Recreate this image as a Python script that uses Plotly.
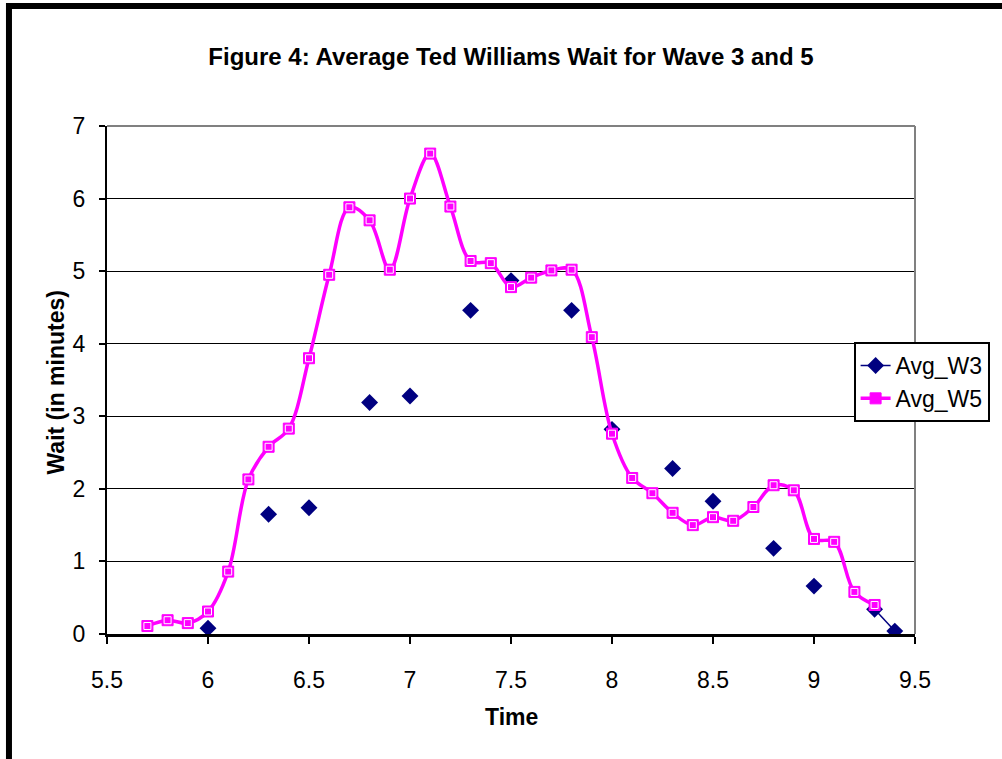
import plotly.graph_objects as go

# ---- data ----
times = [5.7, 5.8, 5.9, 6.0, 6.1, 6.2, 6.3, 6.4, 6.5, 6.6,
         6.7, 6.8, 6.9, 7.0, 7.1, 7.2, 7.3, 7.4, 7.5, 7.6,
         7.7, 7.8, 7.9, 8.0, 8.1, 8.2, 8.3, 8.4, 8.5, 8.6,
         8.7, 8.8, 8.9, 9.0, 9.1, 9.2, 9.3, 9.4]

avg_w3 = [None, None, None, 0.08, None, None, 1.65, None, 1.74, None,
          None, 3.19, None, 3.28, None, None, 4.46, None, 4.87, None,
          None, 4.46, None, 2.82, None, None, 2.28, None, 1.83, None,
          None, 1.18, None, 0.66, None, None, 0.34, 0.04]

avg_w5 = [0.11, 0.19, 0.15, 0.31, 0.86, 2.13, 2.58, 2.83, 3.80, 4.95,
          5.88, 5.70, 5.02, 6.00, 6.62, 5.89, 5.14, 5.11, 4.78, 4.91,
          5.01, 5.02, 4.09, 2.76, 2.15, 1.94, 1.67, 1.50, 1.61, 1.56,
          1.75, 2.05, 1.98, 1.31, 1.27, 0.58, 0.40, None]

x_ticks = [5.5, 6, 6.5, 7, 7.5, 8, 8.5, 9, 9.5]
y_ticks = [0, 1, 2, 3, 4, 5, 6, 7]

title_text = "Figure 4: Average Ted Williams Wait for Wave 3 and 5"
x_title = "Time"
y_title = "Wait (in minutes)"

FONT = "Liberation Sans, Arial, sans-serif"
W, H = 1002, 759
L, R, T, B = 107, 79, 126, 125
PW, PH = W - L - R, H - T - B


def px_x(px):
    return (px - L) / PW


def px_y(py):
    return (H - B - py) / PH


fig = go.Figure()

fig.add_trace(go.Scatter(
    x=times, y=avg_w3, name="Avg_W3", mode="lines+markers",
    connectgaps=False,
    line=dict(color="#000080", width=1.5),
    marker=dict(symbol="diamond", size=13, color="#000080",
                line=dict(width=0)),
))

fig.add_trace(go.Scatter(
    x=times, y=avg_w5, name="Avg_W5", mode="lines+markers",
    line=dict(color="#FF00FF", width=3.5, shape="spline", smoothing=1.0),
    marker=dict(symbol="square", size=11, color="#FF00FF",
                line=dict(color="#FF00FF", width=1)),
))

fig.add_trace(go.Scatter(
    x=times, y=avg_w5, mode="markers", showlegend=False, hoverinfo="skip",
    marker=dict(symbol="square-open", size=7, color="white",
                line=dict(color="white", width=1)),
))

fig.update_layout(
    width=W, height=H,
    margin=dict(l=L, r=R, t=T, b=B, pad=0),
    paper_bgcolor="white", plot_bgcolor="white",
    font=dict(family=FONT, size=23, color="black"),
    title=dict(text="<b>" + title_text + "</b>", x=0.5, xref="paper",
               y=1 - 57 / H, yref="container", yanchor="middle",
               xanchor="center", font=dict(size=24, family=FONT)),
    showlegend=True,
    legend=dict(x=px_x(861), y=px_y(342), xanchor="left", yanchor="top",
                bgcolor="white", bordercolor="black", borderwidth=2,
                font=dict(size=23, family=FONT),
                itemwidth=30, tracegroupgap=0),
)

fig.update_xaxes(
    range=[5.5, 9.5], tickvals=x_ticks, ticktext=[str(v) for v in x_ticks],
    showgrid=False, zeroline=False,
    showline=True, linecolor="black", linewidth=2.5,
    ticks="outside", ticklen=7, tickwidth=1.5, tickcolor="black",
    ticklabelstandoff=17,
    tickfont=dict(size=23, family=FONT),
)

fig.update_yaxes(
    range=[0, 7], tickvals=y_ticks,
    showgrid=True, gridcolor="black", gridwidth=1, zeroline=False,
    showline=True, linecolor="black", linewidth=2,
    ticks="outside", ticklen=6, tickwidth=1.5, tickcolor="black",
    ticklabelstandoff=9,
    tickfont=dict(size=23, family=FONT),
)

# gray top and right plot-area border
fig.add_shape(type="line", xref="paper", yref="paper", x0=0, x1=1, y0=1, y1=1,
              line=dict(color="#808080", width=2), layer="above")
fig.add_shape(type="line", xref="paper", yref="paper", x0=1, x1=1, y0=0, y1=1,
              line=dict(color="#808080", width=2), layer="above")

# outer chart-area border (extends beyond the visible window)
fig.add_shape(type="rect", xref="paper", yref="paper",
              x0=px_x(8), x1=px_x(1100), y0=px_y(6), y1=px_y(850),
              line=dict(color="black", width=6), fillcolor="rgba(0,0,0,0)",
              layer="above")

fig.add_annotation(text="<b>" + x_title + "</b>", xref="paper", yref="paper",
                   x=0.5, y=px_y(717), xanchor="center", yanchor="middle",
                   showarrow=False, font=dict(size=23, family=FONT))
fig.add_annotation(text="<b>" + y_title + "</b>", xref="paper", yref="paper",
                   x=px_x(55), y=px_y(383), xanchor="center", yanchor="middle",
                   textangle=-90, showarrow=False,
                   font=dict(size=23, family=FONT))

fig.write_html("out.html")
